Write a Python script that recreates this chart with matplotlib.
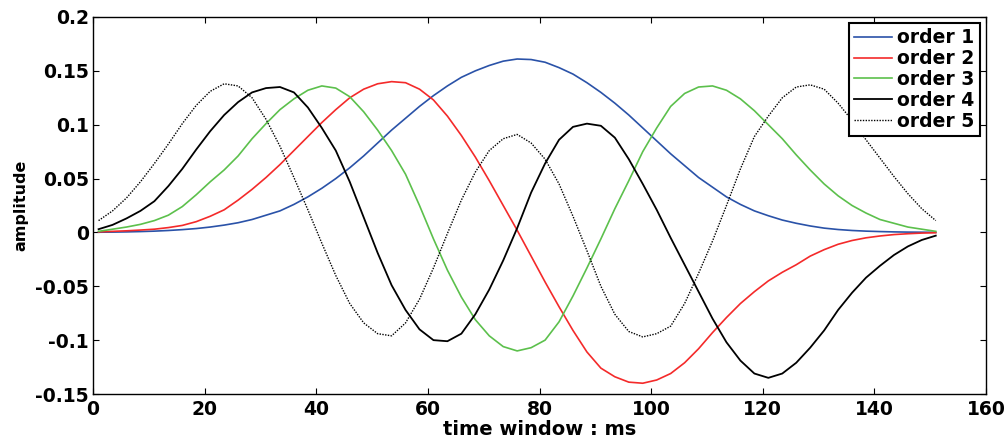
import matplotlib
matplotlib.use('Agg')
import matplotlib.pyplot as plt
from matplotlib.ticker import FuncFormatter

plt.rcParams['font.family'] = ['DejaVu Sans']
plt.rcParams['font.weight'] = 'bold'
plt.rcParams['axes.unicode_minus'] = False

# sample times (ms), read every 2.5 ms along the window
time_ms = [1, 3.5, 6, 8.5, 11, 13.5, 16, 18.5, 21, 23.5, 26, 28.5, 31, 33.5, 36,
           38.5, 41, 43.5, 46, 48.5, 51, 53.5, 56, 58.5, 61, 63.5, 66, 68.5, 71,
           73.5, 76, 78.5, 81, 83.5, 86, 88.5, 91, 93.5, 96, 98.5, 101, 103.5,
           106, 108.5, 111, 113.5, 116, 118.5, 121, 123.5, 126, 128.5, 131,
           133.5, 136, 138.5, 141, 143.5, 146, 148.5, 151]

order1 = [0.0002, 0.0003, 0.0005, 0.0008, 0.0012, 0.0018, 0.0026, 0.0036, 0.005,
          0.0068, 0.009, 0.012, 0.016, 0.020, 0.026, 0.033, 0.041, 0.050, 0.060,
          0.071, 0.083, 0.095, 0.106, 0.117, 0.127, 0.136, 0.144, 0.150, 0.155,
          0.159, 0.161, 0.1605, 0.158, 0.153, 0.147, 0.139, 0.130, 0.120, 0.109,
          0.097, 0.085, 0.073, 0.062, 0.051, 0.042, 0.033, 0.026, 0.020, 0.0155,
          0.0115, 0.0085, 0.006, 0.004, 0.0027, 0.0018, 0.0012, 0.0008, 0.0005,
          0.0003, 0.0002, 0.0001]

order2 = [0.0005, 0.001, 0.0015, 0.0022, 0.003, 0.0045, 0.0065, 0.010, 0.015,
          0.021, 0.030, 0.040, 0.051, 0.063, 0.076, 0.089, 0.102, 0.114, 0.125,
          0.133, 0.138, 0.140, 0.139, 0.133, 0.123, 0.108, 0.090, 0.070, 0.048,
          0.025, 0.002, -0.022, -0.046, -0.069, -0.091, -0.111, -0.126, -0.134,
          -0.139, -0.140, -0.137, -0.131, -0.121, -0.108, -0.093, -0.079,
          -0.066, -0.055, -0.045, -0.037, -0.030, -0.022, -0.016, -0.011,
          -0.0075, -0.005, -0.0033, -0.002, -0.0012, -0.0006, -0.0003]

order3 = [0.001, 0.003, 0.005, 0.0075, 0.011, 0.016, 0.024, 0.035, 0.047, 0.058,
          0.071, 0.087, 0.101, 0.114, 0.124, 0.132, 0.136, 0.134, 0.126, 0.112,
          0.095, 0.076, 0.054, 0.025, -0.006, -0.035, -0.060, -0.081, -0.096,
          -0.106, -0.110, -0.107, -0.100, -0.083, -0.059, -0.033, -0.006, 0.022,
          0.048, 0.075, 0.097, 0.117, 0.129, 0.135, 0.136, 0.132, 0.124, 0.113,
          0.100, 0.087, 0.072, 0.058, 0.045, 0.034, 0.025, 0.018, 0.012, 0.0085,
          0.005, 0.003, 0.001]

order4 = [0.003, 0.007, 0.013, 0.020, 0.029, 0.043, 0.059, 0.077, 0.094, 0.109,
          0.121, 0.130, 0.134, 0.135, 0.130, 0.116, 0.097, 0.076, 0.047, 0.014,
          -0.019, -0.049, -0.072, -0.090, -0.100, -0.101, -0.094, -0.076,
          -0.053, -0.026, 0.004, 0.037, 0.064, 0.086, 0.098, 0.101, 0.099,
          0.088, 0.068, 0.045, 0.021, -0.005, -0.030, -0.055, -0.080, -0.102,
          -0.119, -0.131, -0.135, -0.131, -0.121, -0.107, -0.091, -0.072,
          -0.056, -0.042, -0.031, -0.021, -0.013, -0.007, -0.003]

order5 = [0.011, 0.020, 0.032, 0.047, 0.064, 0.082, 0.101, 0.118, 0.131, 0.138,
          0.136, 0.125, 0.105, 0.080, 0.051, 0.021, -0.010, -0.040, -0.066,
          -0.084, -0.094, -0.096, -0.084, -0.062, -0.033, -0.001, 0.030, 0.056,
          0.076, 0.087, 0.091, 0.083, 0.068, 0.045, 0.015, -0.017, -0.050,
          -0.076, -0.092, -0.097, -0.094, -0.087, -0.066, -0.038, -0.008, 0.025,
          0.059, 0.089, 0.108, 0.125, 0.135, 0.137, 0.133, 0.120, 0.104, 0.086,
          0.069, 0.052, 0.036, 0.022, 0.011]

labels = ['order 1', 'order 2', 'order 3', 'order 4', 'order 5']
x_ticks = [0, 20, 40, 60, 80, 100, 120, 140, 160]
y_ticks = [-0.15, -0.1, -0.05, 0, 0.05, 0.1, 0.15, 0.2]

fig = plt.figure(figsize=(10.08, 4.38), dpi=100)
ax = fig.add_axes([93 / 1008, 44 / 438, 893 / 1008, 377 / 438])

styles = [
    dict(color='#2a52a8', lw=1.2),
    dict(color='#f42a2a', lw=1.2),
    dict(color='#5cc04c', lw=1.2),
    dict(color='black', lw=1.3),
    dict(color='black', lw=1.0, linestyle=(0, (1, 1))),
]
for series, label, st in zip([order1, order2, order3, order4, order5],
                             labels, styles):
    ax.plot(time_ms, series, label=label, solid_joinstyle='round', **st)

ax.set_xlim(0, 160)
ax.set_ylim(-0.15, 0.2)
ax.set_xticks(x_ticks)
ax.set_yticks(y_ticks)
ax.yaxis.set_major_formatter(FuncFormatter(lambda v, p: '%g' % round(v, 2)))
ax.tick_params(direction='in', top=True, right=True, length=4, width=0.8,
               labelsize=13.5, pad=3)
ax.tick_params(axis='x', pad=4)
for s in ax.spines.values():
    s.set_linewidth(1.0)

ax.set_xlabel('time window : ms', fontsize=14, fontweight='bold', labelpad=1)
ax.set_ylabel('amplitude', fontsize=11.5, fontweight='bold', labelpad=5)

leg = ax.legend(loc='upper right', fontsize=13.5, fancybox=False,
                framealpha=1, edgecolor='black', handlelength=2.0,
                handletextpad=0.3, borderpad=0.3, labelspacing=0.1,
                borderaxespad=0.3)
leg.get_frame().set_linewidth(1.5)

fig.savefig('out.png', dpi=100)
